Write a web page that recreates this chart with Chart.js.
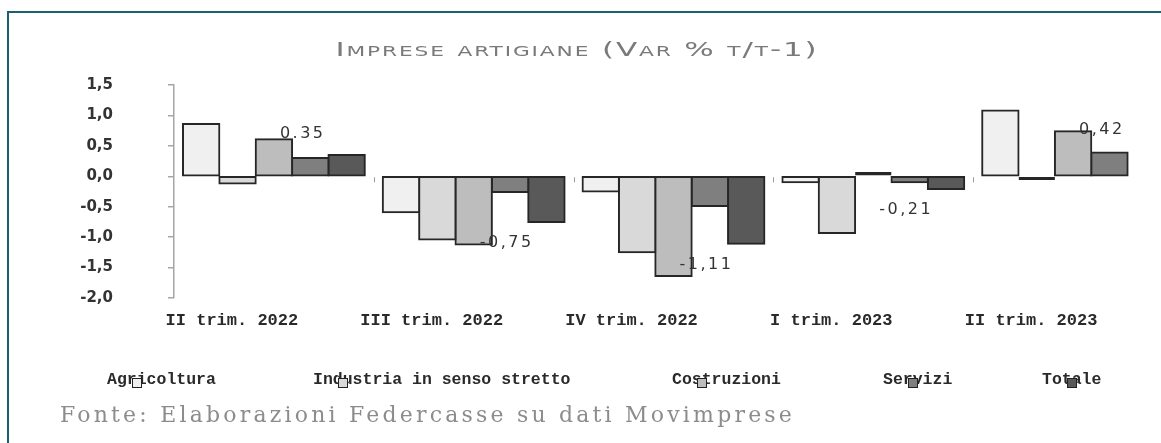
<!DOCTYPE html>
<html lang="it">
<head>
<meta charset="utf-8">
<title>Imprese artigiane</title>
<script src="https://cdn.jsdelivr.net/npm/chart.js@4.4.1/dist/chart.umd.min.js"></script>
<style>
  html, body { margin: 0; padding: 0; background: #fff; overflow: hidden; width: 1161px; height: 443px; }
  #cornice { position: absolute; left: 7px; top: 11px; width: 1200px; height: 500px; border: 2px solid #1d5e70; box-sizing: border-box; }
  #contenitore { position: absolute; left: 0; top: 0; width: 1200px; height: 443px; }
  #titolo { position: absolute; left: 577px; top: 37px; white-space: nowrap; transform: translateX(-50%) scaleX(1.55); font-family: "DejaVu Sans", sans-serif; font-variant: small-caps; font-size: 20px; letter-spacing: 1.2px; color: #7a7a7a; }
  .voce { position: absolute; top: 370px; font-family: "Liberation Mono", monospace; font-weight: bold; font-size: 16.5px; color: #2a2a2a; white-space: nowrap; }
  .voce i { position: absolute; top: 8px; width: 10px; height: 10px; border: 1.5px solid #222; box-sizing: border-box; }
  #fonte { position: absolute; left: 60px; top: 402px; font-family: "DejaVu Serif", serif; font-size: 22px; letter-spacing: 3.2px; color: #8c8c8c; white-space: nowrap; }
</style>
</head>
<body>
<div id="cornice"></div>
<div id="contenitore"><canvas id="grafico"></canvas></div>
<div id="titolo">Imprese artigiane (Var % t/t-1)</div>
<div id="legenda"></div>
<div id="fonte">Fonte: Elaborazioni Federcasse su dati Movimprese</div>

<script>
// === DATI ===
const trimestri = ["II trim. 2022", "III trim. 2022", "IV trim. 2022", "I trim. 2023", "II trim. 2023"];

const agricoltura = [0.86, -0.59, -0.25, -0.10, 1.08];
const industria   = [-0.12, -1.04, -1.25, -0.93, -0.06];
const costruzioni = [0.61, -1.12, -1.64, 0.07, 0.74];
const servizi     = [0.30, -0.26, -0.49, -0.10, 0.39];
const totale      = [0.35, -0.75, -1.11, -0.21, null]; // ultima barra non visibile nell'originale

// etichette del totale, come nel grafico originale
const valoriEtichette = [0.35, -0.75, -1.11, -0.21, 0.42];
const etichetteTotale = ["0.35", "-0,75", "-1,11", "-0,21", "0,42"];

const nomiSerie = ["Agricoltura", "Industria in senso stretto", "Costruzioni", "Servizi", "Totale"];
const coloriSerie = ["#f0f0f0", "#d9d9d9", "#bdbdbd", "#7f7f7f", "#595959"];

const yMin = -2.0;
const yMax = 1.5;
const yPasso = 0.5;

// === LEGENDA (HTML) ===
const posLegenda = [107, 313, 672, 883, 1042];
const legenda = document.getElementById("legenda");
nomiSerie.forEach((nome, i) => {
    const voce = document.createElement("span");
    voce.className = "voce";
    voce.style.left = posLegenda[i] + "px";
    voce.textContent = nome;
    const quadrato = document.createElement("i");
    quadrato.style.left = "25px";
    quadrato.style.background = coloriSerie[i];
    voce.appendChild(quadrato);
    legenda.appendChild(voce);
});

// === PLUGIN: etichette del totale e tacche sullo zero ===
const pluginEtichette = {
    id: "etichette",
    afterDatasetsDraw(chart) {
        const ctx = chart.ctx;
        const x = chart.scales.x;
        const y = chart.scales.y;
        ctx.save();

        // tacche delle categorie sulla linea dello zero
        ctx.strokeStyle = "#9a9a9a";
        ctx.lineWidth = 1;
        for (let i = 1; i <= trimestri.length; i++) {
            const px = Math.round((x.getPixelForValue(i - 1) + x.getPixelForValue(i)) / 2) + 0.5;
            const py = y.getPixelForValue(0);
            ctx.beginPath();
            ctx.moveTo(px, py + 1);
            ctx.lineTo(px, py + 6);
            ctx.stroke();
        }

        // valori del totale
        ctx.font = "16px 'DejaVu Sans', sans-serif";
        ctx.letterSpacing = "2.5px";
        ctx.fillStyle = "#333";
        ctx.textAlign = "left";
        ctx.textBaseline = "middle";
        valoriEtichette.forEach((v, i) => {
            const px = x.getPixelForValue(i) + 6;
            const py = y.getPixelForValue(v) + (v >= 0 ? -21 : 21);
            ctx.fillText(etichetteTotale[i], px, py);
        });
        ctx.letterSpacing = "0px";
        ctx.restore();
    }
};

// === GRAFICO ===
const serie = [agricoltura, industria, costruzioni, servizi, totale];
const datasets = nomiSerie.map((nome, i) => ({
    label: nome,
    data: serie[i],
    backgroundColor: coloriSerie[i],
    borderColor: "#262626",
    borderWidth: 2,
    borderSkipped: false,
    // le barre quasi nulle restano tutte scure, come nell'originale
    inflateAmount: (c) => (Math.abs(c.raw) < 0.1 ? 0 : 1),
    categoryPercentage: 0.91,
    barPercentage: 1.0
}));

new Chart(document.getElementById("grafico"), {
    type: "bar",
    data: { labels: trimestri, datasets },
    options: {
        responsive: true,
        maintainAspectRatio: false,
        animation: false,
        layout: { padding: { left: 0, right: 27, top: 85, bottom: 105 } },
        plugins: {
            legend: { display: false },
            title: { display: false },
            tooltip: { enabled: false }
        },
        scales: {
            x: {
                grid: { display: false, drawTicks: false },
                border: { display: false },
                ticks: {
                    color: "#2a2a2a",
                    font: { family: "'Liberation Mono', monospace", size: 17, weight: "bold" },
                    padding: 13,
                    labelOffset: -42,
                    maxRotation: 0,
                    autoSkip: false
                },
                afterFit(scale) { scale.height = 40; }
            },
            y: {
                min: yMin,
                max: yMax,
                grid: { drawOnChartArea: false, drawTicks: true, tickLength: 6, color: "#a6a6a6", lineWidth: 1.5 },
                border: { display: true, color: "#a6a6a6", width: 1.5 },
                ticks: {
                    stepSize: yPasso,
                    padding: 55,
                    color: "#333",
                    font: { family: "'DejaVu Sans', sans-serif", size: 15, weight: "bold" },
                    callback: (v) => v.toFixed(1).replace(".", ",")
                },
                afterFit(scale) { scale.width = 174; }
            }
        }
    },
    plugins: [pluginEtichette]
});
</script>
</body>
</html>
